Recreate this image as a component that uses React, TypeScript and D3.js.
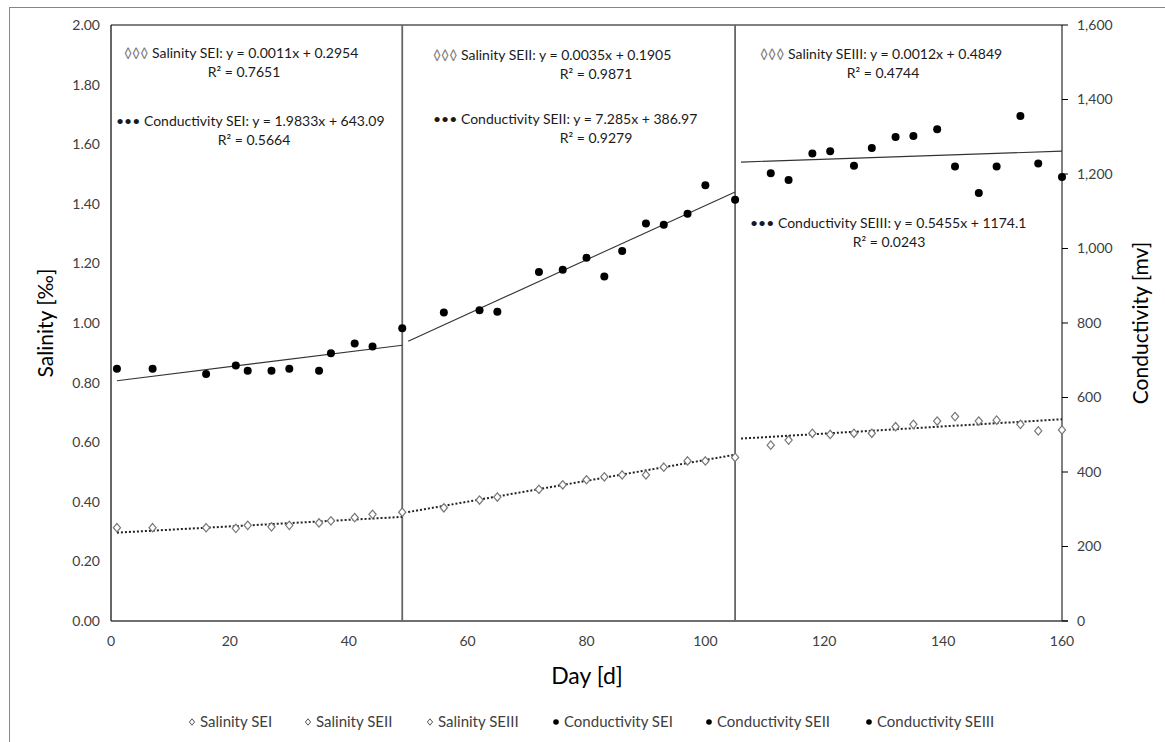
import React from "react";
import * as d3 from "d3";

// ---- data ----
const daysI = [1, 7, 16, 21, 23, 27, 30, 35, 37, 41, 44, 49];
const salI = [0.313, 0.313, 0.313, 0.311, 0.321, 0.316, 0.321, 0.329, 0.336, 0.347, 0.358, 0.365];
const condI = [677, 677, 663, 686, 672, 672, 677, 672, 719, 745, 737, 786];

const daysII = [56, 62, 65, 72, 76, 80, 83, 86, 90, 93, 97, 100, 105];
const salII = [0.38, 0.406, 0.416, 0.442, 0.457, 0.474, 0.484, 0.49, 0.49, 0.516, 0.537, 0.537, 0.549];
const condII = [828, 834, 830, 937, 943, 975, 925, 993, 1067, 1064, 1093, 1170, 1131];

const daysIII = [111, 114, 118, 121, 125, 128, 132, 135, 139, 142, 146, 149, 153, 156, 160];
const salIII = [0.59, 0.607, 0.63, 0.626, 0.63, 0.63, 0.652, 0.66, 0.671, 0.686, 0.671, 0.674, 0.66, 0.638, 0.641];
const condIII = [1202, 1184, 1255, 1261, 1222, 1270, 1299, 1302, 1320, 1220, 1149, 1220, 1356, 1228, 1192];

// trendline coefficients (printed on the chart) and their day ranges
const phases = ["SEI", "SEII", "SEIII"];
const salSlope = [0.0011, 0.0035, 0.0012];
const salIntercept = [0.2954, 0.1905, 0.4849];
const salR2 = ["0.7651", "0.9871", "0.4744"];
const condSlope = [1.9833, 7.285, 0.5455];
const condIntercept = [643.09, 386.97, 1174.1];
const condR2 = ["0.5664", "0.9279", "0.0243"];
const trendFrom = [1, 50, 106];
const trendTo = [49, 105, 160];
const separators = [49, 105];

const salTicks = [0, 0.2, 0.4, 0.6, 0.8, 1.0, 1.2, 1.4, 1.6, 1.8, 2.0];
const condTicks = [0, 200, 400, 600, 800, 1000, 1200, 1400, 1600];
const dayTicks = [0, 20, 40, 60, 80, 100, 120, 140, 160];
const legendItems = ["Salinity SEI", "Salinity SEII", "Salinity SEIII", "Conductivity SEI", "Conductivity SEII", "Conductivity SEIII"];

const W = 1165, H = 742;
const m = { l: 111, r: 1062, t: 25, b: 621 };
const FONT = "Lato, Calibri, 'Open Sans', sans-serif";

const diamond = (cx: number, cy: number, w = 3.6, h = 4.2) =>
  `M${cx},${cy - h}L${cx + w},${cy}L${cx},${cy + h}L${cx - w},${cy}Z`;

export default function App() {
  const x = d3.scaleLinear().domain([0, 160]).range([m.l, m.r]);
  const yS = d3.scaleLinear().domain([0, 2]).range([m.b, m.t]);
  const yC = d3.scaleLinear().domain([0, 1600]).range([m.b, m.t]);
  const fmtS = d3.format(".2f");
  const fmtC = d3.format(",");

  const sets = [
    { days: daysI, sal: salI, cond: condI },
    { days: daysII, sal: salII, cond: condII },
    { days: daysIII, sal: salIII, cond: condIII },
  ];

  // annotation anchors (text layout)
  const ann = [
    { sx: 124, sy: 53, rx: 244, ry: 72, cx: 116, cy: 121, crx: 254, cry: 140 },
    { sx: 433, sy: 55, rx: 596, ry: 74, cx: 433, cy: 119, crx: 596, cry: 138 },
    { sx: 760, sy: 54, rx: 883, ry: 73, cx: 750, cy: 223, crx: 889, cry: 242 },
  ];

  const legendX = [189, 305, 427, 553, 706, 866];

  return (
    <svg width={W} height={H} style={{ position: "absolute", left: 0, top: 0, background: "#fff" }} fontFamily={FONT}>
      <rect x={0} y={0} width={W} height={H} fill="#fff" />
      <rect x={9.5} y={7.5} width={W + 20} height={H + 20} fill="none" stroke="#878787" strokeWidth={1} />

      {/* plot frame */}
      <line x1={m.l} x2={m.r} y1={m.t} y2={m.t} stroke="#000" strokeWidth={1} />
      <line x1={m.l} x2={m.l} y1={m.t} y2={m.b} stroke="#000" strokeWidth={1.2} />
      <line x1={m.r} x2={m.r} y1={m.t} y2={m.b} stroke="#000" strokeWidth={1} />
      <line x1={m.l} x2={m.r + 6} y1={m.b} y2={m.b} stroke="#404040" strokeWidth={1.6} />

      {/* phase separators */}
      {separators.map((d) => (
        <line key={d} x1={x(d)} x2={x(d)} y1={m.t} y2={m.b} stroke="#666" strokeWidth={1.8} />
      ))}

      {/* left axis labels */}
      {salTicks.map((t) => (
        <text key={t} x={100} y={yS(t)} dy="0.35em" textAnchor="end" fontSize={14} fill="#404040">{fmtS(t)}</text>
      ))}
      {/* right axis */}
      {condTicks.map((t) => (
        <g key={t}>
          <line x1={m.r} x2={m.r + 6} y1={yC(t)} y2={yC(t)} stroke="#000" />
          <text x={1077} y={yC(t)} dy="0.35em" fontSize={14} fill="#404040">{fmtC(t)}</text>
        </g>
      ))}
      {/* bottom axis labels */}
      {dayTicks.map((t) => (
        <text key={t} x={x(t)} y={641} dy="0.35em" textAnchor="middle" fontSize={14} fill="#404040">{t}</text>
      ))}

      <text transform={`translate(46,${(m.t + m.b) / 2}) rotate(-90)`} textAnchor="middle" dy="0.35em" fontSize={21} fill="#000">Salinity [‰]</text>
      <text transform={`translate(1141,${(m.t + m.b) / 2}) rotate(-90)`} textAnchor="middle" dy="0.35em" fontSize={21} fill="#000">Conductivity [mv]</text>
      <text x={587} y={676} dy="0.35em" textAnchor="middle" fontSize={23} fill="#000">Day [d]</text>

      {/* trendlines */}
      {phases.map((p, i) => {
        const a = trendFrom[i], b = trendTo[i];
        return (
          <g key={"tr" + p}>
            <line x1={x(a)} x2={x(b)} y1={yC(condSlope[i] * a + condIntercept[i])} y2={yC(condSlope[i] * b + condIntercept[i])} stroke="#333" strokeWidth={1.1} />
            <line x1={x(a)} x2={x(b)} y1={yS(salSlope[i] * a + salIntercept[i])} y2={yS(salSlope[i] * b + salIntercept[i])} stroke="#222" strokeWidth={2} strokeDasharray="2 2" />
          </g>
        );
      })}

      {/* points */}
      {sets.map((s, i) => (
        <g key={"pts" + i}>
          {s.days.map((d, j) => (
            <path key={"s" + j} d={diamond(x(d), yS(s.sal[j]))} fill="#fff" stroke="#777" strokeWidth={1.2} />
          ))}
          {s.days.map((d, j) => (
            <circle key={"c" + j} cx={x(d)} cy={yC(s.cond[j])} r={4} fill="#000" />
          ))}
        </g>
      ))}

      {/* equation annotations */}
      {phases.map((p, i) => {
        const a = ann[i];
        return (
          <g key={"ann" + p} fontSize={14} fill="#1a1a1a">
            <text x={a.sx} y={a.sy} dy="0.35em">
              <tspan fill="#777">◊◊◊</tspan> Salinity {p}: y = {salSlope[i].toFixed(4)}x + {salIntercept[i].toFixed(4)}
            </text>
            <text x={a.rx} y={a.ry} dy="0.35em" textAnchor="middle">R² = {salR2[i]}</text>
            <text x={a.cx} y={a.cy} dy="0.35em">
              ••• Conductivity {p}: y = {condSlope[i]}x + {condIntercept[i]}
            </text>
            <text x={a.crx} y={a.cry} dy="0.35em" textAnchor="middle">R² = {condR2[i]}</text>
          </g>
        );
      })}

      {/* legend */}
      {legendItems.map((l, i) => (
        <g key={l}>
          {i < 3 ? (
            <path d={diamond(legendX[i] + 3, 722, 2.6, 3.2)} fill="#fff" stroke="#555" strokeWidth={1} />
          ) : (
            <circle cx={legendX[i] + 3} cy={722} r={2.8} fill="#000" />
          )}
          <text x={legendX[i] + 11} y={722} dy="0.35em" fontSize={15} fill="#404040">{l}</text>
        </g>
      ))}
    </svg>
  );
}
